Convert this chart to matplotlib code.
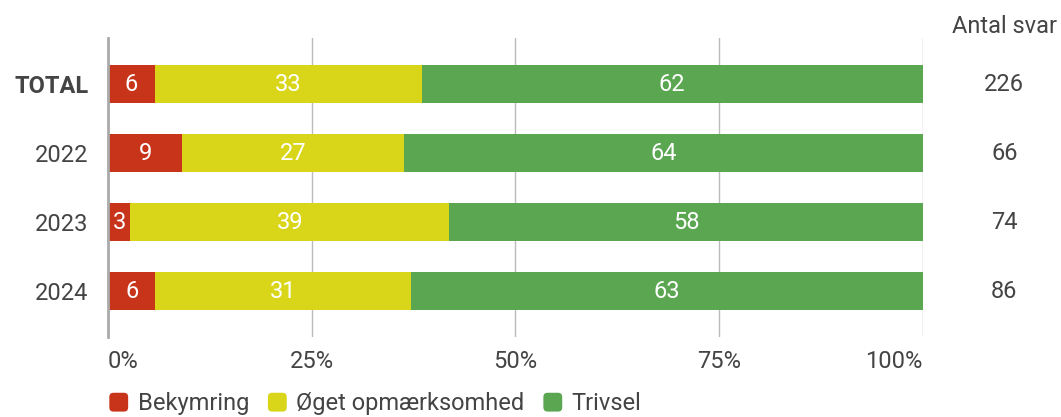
import matplotlib.pyplot as plt
import numpy as np
from matplotlib.patches import FancyBboxPatch
from matplotlib.legend_handler import HandlerPatch

plt.rcParams['font.family'] = ['Roboto', 'DejaVu Sans']

# Data: antal svar per kategori
kategorier = ['TOTAL', '2022', '2023', '2024']
bekymring = [13, 6, 2, 5]
oget = [74, 18, 29, 27]
trivsel = [139, 42, 43, 54]
serier = ['Bekymring', 'Øget opmærksomhed', 'Trivsel']
farver = ['#C8341A', '#D9D61A', '#5BA651']

antal = np.array(bekymring) + np.array(oget) + np.array(trivsel)
data = [np.array(bekymring) / antal * 100,
        np.array(oget) / antal * 100,
        np.array(trivsel) / antal * 100]

fs = 17
tekstfarve = '#444444'

fig = plt.figure(figsize=(10.61, 4.17), dpi=100)
ax = fig.add_axes([0.1018, 0.1918, 0.768, 0.717])

y = np.arange(len(kategorier))
venstre = np.zeros(len(kategorier))
handles = []
for navn, vals, farve in zip(serier, data, farver):
    b = ax.barh(y, vals, left=venstre, height=0.55, color=farve, label=navn, zorder=3)
    handles.append(b)
    for yi, v, l in zip(y, vals, venstre):
        ax.text(l + v / 2, yi, f'{v:.0f}', ha='center', va='center',
                color='white', fontsize=fs, zorder=4)
    venstre += vals

ax.set_xlim(0, 100)
ax.set_ylim(3.667, -0.667)
ax.set_xticks([0, 25, 50, 75, 100])
ax.set_xticklabels(['0%', '25%', '50%', '75%', '100%'])
ax.set_yticks(y)
ax.set_yticklabels(kategorier)
ax.get_yticklabels()[0].set_fontweight('bold')
ax.tick_params(axis='both', length=0, labelsize=fs, colors=tekstfarve)
ax.tick_params(axis='x', pad=9)
ax.tick_params(axis='y', pad=14)
xl = ax.get_xticklabels()
xl[0].set_ha('left')
xl[-1].set_ha('right')
ax.xaxis.grid(True, color='#bbbbbb', linewidth=1, zorder=0)
for s in ['top', 'right', 'bottom']:
    ax.spines[s].set_visible(False)
ax.spines['left'].set_color('#aaaaaa')
ax.spines['left'].set_linewidth(2)
ax.spines['left'].set_zorder(5)

# Antal svar kolonne
ax.text(1.1, 1.04, 'Antal svar', transform=ax.transAxes, ha='center',
        va='center', fontsize=fs, color=tekstfarve)
for yi, n in zip(y, antal):
    ax.text(1.1, yi, str(n), transform=ax.get_yaxis_transform(),
            ha='center', va='center', fontsize=fs, color=tekstfarve)


class RundFirkant(HandlerPatch):
    def create_artists(self, legend, orig_handle, xdescent, ydescent,
                       width, height, fontsize, trans):
        fc = orig_handle.patches[0].get_facecolor()
        s = min(width, height)
        p = FancyBboxPatch((-xdescent, -ydescent + (height - s) / 2), s, s,
                           boxstyle='round,pad=0,rounding_size=3',
                           facecolor=fc, edgecolor='none', transform=trans)
        return [p]


fig.legend(handles=handles, labels=serier, loc='lower left',
           bbox_to_anchor=(0.083, -0.047), ncol=3, frameon=False, fontsize=fs,
           handlelength=0.85, handleheight=0.85, handletextpad=0.35,
           columnspacing=0.8, labelcolor=tekstfarve,
           handler_map={type(handles[0]): RundFirkant()})

fig.savefig('out.png', dpi=100)
